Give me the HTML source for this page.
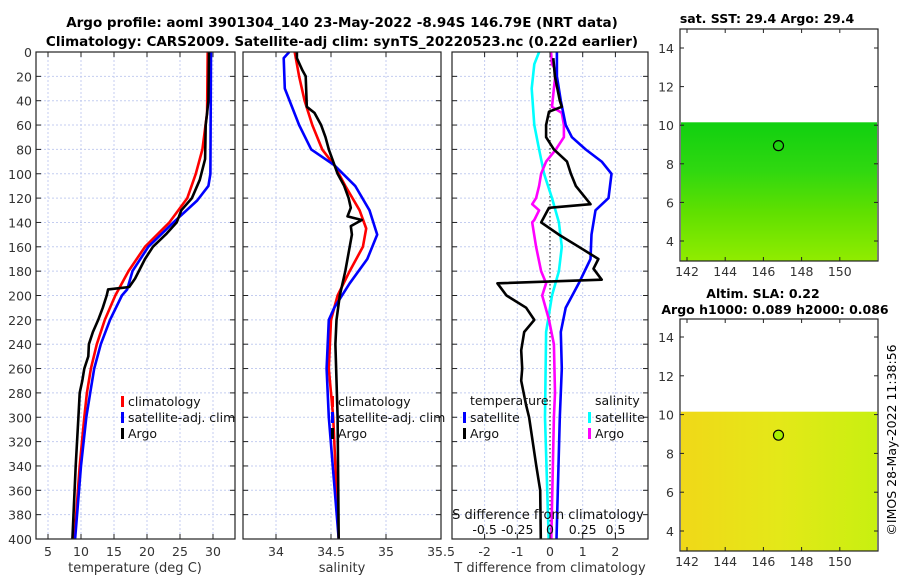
<!DOCTYPE html>
<html><head><meta charset="utf-8"><style>
html,body{margin:0;padding:0;background:#fff;}
svg{display:block;font-family:"DejaVu Sans","Liberation Sans",sans-serif;}
</style></head><body>
<svg id="fig" width="900" height="580" viewBox="0 0 900 580" xmlns="http://www.w3.org/2000/svg">
<text x="342" y="27" font-size="13.5" font-weight="bold" text-anchor="middle">Argo profile: aoml 3901304_140 23-May-2022 -8.94S 146.79E (NRT data)</text>
<text x="342" y="46" font-size="13.5" font-weight="bold" text-anchor="middle">Climatology: CARS2009. Satellite-adj clim: synTS_20220523.nc (0.22d earlier)</text>
<g id="plots"></g>
<text x="767" y="23" font-size="12.5" font-weight="bold" text-anchor="middle">sat. SST: 29.4 Argo: 29.4</text>
<text x="763" y="298" font-size="12.5" font-weight="bold" text-anchor="middle">Altim. SLA: 0.22</text>
<text x="775" y="314" font-size="12.5" font-weight="bold" text-anchor="middle">Argo h1000: 0.089 h2000: 0.086</text>
<text transform="translate(896,440) rotate(-90)" font-size="12.5" text-anchor="middle">©IMOS 28-May-2022 11:38:56</text>
</svg>
<script>
// ---- data ----
const depthTClim=[0,50,80,100,120,140,160,180,200,220,240,260,280,300,340,400];
const tClim=[29.2,29.1,28.4,27.4,26.1,23.4,19.7,17.2,15.2,13.6,12.4,11.5,10.9,10.5,9.8,9.0];
const depthTSat=[0,100,110,122,140,160,180,195,200,220,240,260,280,300,340,400];
const tSat=[29.7,29.6,29.3,27.6,24.0,20.2,17.8,17.0,16.2,14.4,13.0,12.0,11.4,10.8,10.0,9.1];
const depthTArgo=[0,40,50,60,88,105,120,130,140,149,160,170,186,193,195,200,210,220,230,240,250,260,270,280,300,340,400];
const tArgo=[29.4,29.3,29.1,28.9,28.8,28.0,26.8,25.2,24.5,23.0,20.9,19.7,18.2,17.3,14.1,13.9,13.3,12.6,11.8,11.2,11.1,10.5,10.2,9.8,9.6,9.2,8.7];
const depthSClim=[0,20,40,60,80,93,110,130,145,160,180,200,220,260,300,400];
const sClim=[34.17,34.21,34.26,34.33,34.42,34.53,34.63,34.76,34.82,34.79,34.67,34.56,34.5,34.48,34.52,34.57];
const depthSSat=[0,5,30,60,80,93,110,130,150,170,190,210,220,260,300,400];
const sSat=[34.12,34.07,34.08,34.21,34.32,34.53,34.72,34.85,34.92,34.83,34.67,34.53,34.48,34.46,34.48,34.57];
const depthSArgo=[0,5,15,20,45,50,60,70,80,90,100,110,120,128,135,138,143,150,160,180,200,220,240,300,400];
const sArgo=[34.19,34.19,34.24,34.27,34.28,34.35,34.41,34.45,34.48,34.52,34.56,34.62,34.66,34.68,34.65,34.78,34.68,34.69,34.67,34.63,34.58,34.55,34.54,34.56,34.57];
const depthDTSat=[0,20,40,60,70,80,90,100,120,130,150,170,190,210,230,260,300,400];
const dTSat=[0.21,0.21,0.33,0.48,0.67,1.09,1.58,1.88,1.79,1.39,1.27,1.24,0.88,0.48,0.33,0.36,0.3,0.2];
const depthDTArgo=[5,20,40,45,49,60,70,80,90,100,110,120,125,128,140,150,160,170,178,187,190,200,210,220,230,245,260,270,290,300,340,360,400];
const dTArgo=[0.1,0.15,0.3,0.36,-0.03,-0.12,-0.12,0.12,0.52,0.64,0.79,1.09,1.24,-0.03,-0.27,0.27,0.88,1.48,1.33,1.58,-1.61,-1.33,-0.73,-0.48,-0.79,-0.88,-0.85,-0.88,-0.73,-0.64,-0.42,-0.3,-0.28];
const depthDSSat=[0,10,30,60,80,100,120,140,160,180,200,230,300,400];
const dSSat=[-0.083,-0.12,-0.14,-0.12,-0.083,-0.045,0.015,0.068,0.09,0.068,0.015,-0.03,-0.038,-0.01];
const depthDSArgo=[0,10,15,30,45,50,60,70,80,90,100,110,120,125,130,138,140,160,180,190,200,220,240,280,300,400];
const dSArgo=[0.008,0.015,0.045,0.03,0.015,0.09,0.106,0.106,0.045,-0.03,-0.068,-0.083,-0.106,-0.136,-0.083,-0.12,-0.136,-0.106,-0.068,-0.03,-0.06,-0.008,0.03,0.038,0.03,0.01];
const depthTicks=[0,20,40,60,80,100,120,140,160,180,200,220,240,260,280,300,320,340,360,380,400];
const tTicks=[5,10,15,20,25,30];
const sTicks=[34,34.5,35,35.5];
const dtTicks=[-2,-1,0,1,2];
const dsTickLabels=['-0.5','-0.25','0','0.25','0.5'];
const latTicks=[4,6,8,10,12,14];
const lonTicks=[142,144,146,148,150];

const NS='http://www.w3.org/2000/svg';
const g=document.getElementById('plots');
function el(tag,attrs,parent){const e=document.createElementNS(NS,tag);for(const k in attrs)e.setAttribute(k,attrs[k]);(parent||g).appendChild(e);return e;}
const yTop=52,yBot=539;
const yD=d=>yTop+d*(yBot-yTop)/400;
const xT=t=>48+(t-5)*6.6;
const xS=s=>276+(s-34)*110;
const xDT=t=>550+t*32.7;
const xDS=s=>550+s*4*32.7;

function panel(name,x0,x1,xTicksArr,xf,labelsArr){
  const gr=el('g',{});
  
  
  depthTicks.forEach(d=>{if(d>0&&d<400){const l=el('line',{x1:x0,x2:x1,y1:yD(d),y2:yD(d),stroke:'#c4cdf0','stroke-width':1,'stroke-dasharray':'2,2'},gr);}});
  xTicksArr.forEach(v=>{const x=xf(v);if(x>x0+1&&x<x1-1){const l=el('line',{x1:x,x2:x,y1:yTop,y2:yBot,stroke:'#c4cdf0','stroke-width':1,'stroke-dasharray':'2,2'},gr);}});
  return gr;
}
function frame(name,x0,x1,xTicksArr,xf,labels,yLabels){
  const gr=el('g',{});
  
  
  el('rect',{x:x0,y:yTop,width:x1-x0,height:yBot-yTop,fill:'none',stroke:'#222','stroke-width':1.2},gr);
  depthTicks.forEach(d=>{
    el('line',{x1:x0,x2:x0+5,y1:yD(d),y2:yD(d),stroke:'#222'},gr);
    el('line',{x1:x1-5,x2:x1,y1:yD(d),y2:yD(d),stroke:'#222'},gr);
    if(yLabels){const t=el('text',{x:x0-4,y:yD(d)+5,'font-size':12.5,'text-anchor':'end',fill:'#333'},gr);t.textContent=d;}
  });
  xTicksArr.forEach((v,i)=>{const x=xf(v);
    el('line',{x1:x,x2:x,y1:yBot,y2:yBot-5,stroke:'#222'},gr);
    el('line',{x1:x,x2:x,y1:yTop,y2:yTop+5,stroke:'#222'},gr);
    const t=el('text',{x:x,y:yBot+17,'font-size':12.5,'text-anchor':'middle',fill:'#333'},gr);t.textContent=labels?labels[i]:v;
    });
}
function line(name,depths,vals,xf,color,w){
  const pts=depths.map((d,i)=>xf(vals[i]).toFixed(1)+','+yD(d).toFixed(1)).join(' ');
  const p=el('polyline',{points:pts,fill:'none',stroke:color,'stroke-width':w||2.6,'stroke-linejoin':'round'});
  
  
}
function txt(name,x,y,s,opts){const t=el('text',Object.assign({x:x,y:y,'font-size':12.5,fill:'#111'},opts||{}));t.textContent=s;return t;}
function legendMark(name,x,y,color){const r=el('rect',{x:x,y:y-10,width:3,height:11,fill:color});}

// Panel 1 temperature
panel('temperature-grid',36,235,tTicks,xT);
line('temperature-climatology-line',depthTClim,tClim,xT,'#ff0000');
line('temperature-satellite-line',depthTSat,tSat,xT,'#0000ff');
line('temperature-argo-line',depthTArgo,tArgo,xT,'#000000');
frame('temperature-axes',36,235,tTicks,xT,null,true);
txt('temperature-x-axis-title',135,572,'temperature (deg C)',{'text-anchor':'middle',fill:'#333','font-size':13});
legendMark('legend-climatology-marker',121,406,'#ff0000');txt('legend-climatology',128,406,'climatology');
legendMark('legend-satellite-marker',121,422,'#0000ff');txt('legend-satellite-adj',128,422,'satellite-adj. clim');
legendMark('legend-argo-marker',121,438,'#000');txt('legend-argo',128,438,'Argo');

// Panel 2 salinity
panel('salinity-grid',243,441,sTicks,xS);
line('salinity-climatology-line',depthSClim,sClim,xS,'#ff0000');
line('salinity-satellite-line',depthSSat,sSat,xS,'#0000ff');
line('salinity-argo-line',depthSArgo,sArgo,xS,'#000000');
frame('salinity-axes',243,441,sTicks,xS,null,false);
txt('salinity-x-axis-title',342,572,'salinity',{'text-anchor':'middle',fill:'#333','font-size':13});
legendMark('legend2-climatology-marker',331,406,'#ff0000');txt('legend2-climatology',338,406,'climatology');
legendMark('legend2-satellite-marker',331,422,'#0000ff');txt('legend2-satellite-adj',338,422,'satellite-adj. clim');
legendMark('legend2-argo-marker',331,438,'#000');txt('legend2-argo',338,438,'Argo');

// Panel 3 differences
panel('difference-grid',452,648,dtTicks,xDT);
const zl=el('line',{x1:xDT(0),x2:xDT(0),y1:yTop,y2:yBot,stroke:'#333','stroke-width':1.2,'stroke-dasharray':'1.5,2.5'});

line('s-diff-satellite-line',depthDSSat,dSSat,xDS,'#00ffff');
line('s-diff-argo-line',depthDSArgo,dSArgo,xDS,'#ff00ff');
line('t-diff-satellite-line',depthDTSat,dTSat,xDT,'#0000ff');
line('t-diff-argo-line',depthDTArgo,dTArgo,xDT,'#000000');
frame('difference-axes',452,648,dtTicks,xDT,null,false);
txt('t-diff-x-axis-title',550,572,'T difference from climatology',{'text-anchor':'middle',fill:'#333','font-size':13});
txt('s-diff-axis-title',548,519,'S difference from climatology',{'text-anchor':'middle','font-size':13});
dtTicks.forEach((v,i)=>{txt('s-diff-tick-label',xDT(v),534,dsTickLabels[i],{'text-anchor':'middle','font-size':12.5});});
txt('legend3-temperature-header',470,405,'temperature');
txt('legend3-salinity-header',595,405,'salinity');
legendMark('legend3-t-satellite-marker',463,422,'#0000ff');txt('legend3-t-satellite',470,422,'satellite');
legendMark('legend3-t-argo-marker',463,438,'#000');txt('legend3-t-argo',470,438,'Argo');
legendMark('legend3-s-satellite-marker',588,422,'#00ffff');txt('legend3-s-satellite',595,422,'satellite');
legendMark('legend3-s-argo-marker',588,438,'#ff00ff');txt('legend3-s-argo',595,438,'Argo');

// Maps
function map(name,top,bot,lat14y,lat4y,grad,circleFill){
  const gr=el('g',{});
  
  
  const ly=l=>lat4y+(l-4)*(lat14y-lat4y)/10;
  const lx=l=>687+(l-142)*19.1;
  const dataTop=ly(10.15);
  el('rect',{x:681,y:dataTop,width:196,height:bot-dataTop,fill:'url(#'+grad+')'},gr);
  el('rect',{x:680,y:top,width:198,height:bot-top,fill:'none',stroke:'#222','stroke-width':1.2},gr);
  latTicks.forEach(l=>{const y=ly(l);
    el('line',{x1:680,x2:684,y1:y,y2:y,stroke:'#222'},gr);el('line',{x1:874,x2:878,y1:y,y2:y,stroke:'#222'},gr);
    const t=el('text',{x:674,y:y+5,'font-size':12.5,'text-anchor':'end',fill:'#333'},gr);t.textContent=l;
    });
  lonTicks.forEach(l=>{const x=lx(l);
    el('line',{x1:x,x2:x,y1:bot,y2:bot-4,stroke:'#222'},gr);el('line',{x1:x,x2:x,y1:top,y2:top+4,stroke:'#222'},gr);
    const t=el('text',{x:x,y:bot+15,'font-size':12.5,'text-anchor':'middle',fill:'#333'},gr);t.textContent=l;
    });
  const c=el('circle',{cx:lx(146.79),cy:ly(8.94),r:5,fill:circleFill,stroke:'#000','stroke-width':1.2},gr);
  
}
const defs=el('defs',{},document.getElementById('fig'));
const g1=el('linearGradient',{id:'sstg',x1:0,y1:0,x2:0,y2:1},defs);
el('stop',{offset:'0','stop-color':'#10d010'},g1);el('stop',{offset:'0.35','stop-color':'#30d810'},g1);
el('stop',{offset:'0.65','stop-color':'#60e000'},g1);el('stop',{offset:'1','stop-color':'#90ec00'},g1);
const g2=el('linearGradient',{id:'slag',x1:0,y1:0,x2:1,y2:0},defs);
el('stop',{offset:'0','stop-color':'#f0d818'},g2);el('stop',{offset:'0.5','stop-color':'#e4e818'},g2);
el('stop',{offset:'1','stop-color':'#c8f010'},g2);
map('sst-map',29,261,48,241,'sstg','none');
map('sla-map',319,551,337,531,'slag','#a8f000');
</script>
</body></html>
